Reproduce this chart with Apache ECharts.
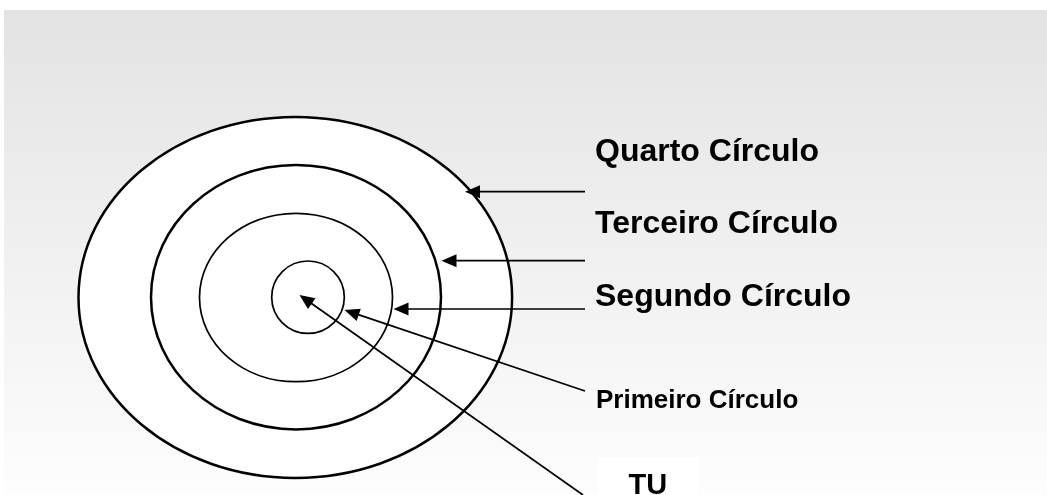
<!DOCTYPE html>
<html>
<head>
<meta charset="utf-8">
<script src="https://cdn.jsdelivr.net/npm/echarts@6/dist/echarts.min.js"></script>
<style>
  html, body { margin: 0; padding: 0; background: #ffffff; }
  #chart { width: 1047px; height: 495px; }
</style>
</head>
<body>
<div id="chart"></div>
<script>
// Concentric circles (innermost first), in diagram units
const circleNames = ['Primeiro Círculo', 'Segundo Círculo', 'Terceiro Círculo', 'Quarto Círculo'];
const circleCx = [308, 296, 296, 295.3];
const circleCy = [297.2, 297.5, 297.2, 297.4];
const circleRx = [36.3, 96.5, 145, 216.8];
const circleRy = [36.2, 84.2, 132.2, 180.5];

// Arrows pointing at each ring (and at the centre, TU)
const arrowNames = ['Quarto Círculo', 'Terceiro Círculo', 'Segundo Círculo', 'Primeiro Círculo', 'TU'];
const arrowFromX = [585, 585, 585, 585, 583];
const arrowFromY = [191.7, 260.7, 309, 391, 495];
const arrowToX = [465, 441.5, 393.5, 344.5, 299.5];
const arrowToY = [191.7, 260.7, 309, 310, 295];

// Text labels
const labelTexts = ['Quarto Círculo', 'Terceiro Círculo', 'Segundo Círculo', 'Primeiro Círculo', 'TU'];
const labelX = [595, 595, 595, 596, 598];
const labelY = [152, 224, 297.5, 400.5, 457];

const circleWidths = [1.7, 1.7, 2.5, 2.5];
const labelSizes = [32, 32, 32, 26, 29];

const chart = echarts.init(document.getElementById('chart'), null, { renderer: 'canvas' });

const circleData = circleCx.map((_, i) => [circleCx[i], circleCy[i], circleRx[i], circleRy[i], i]).reverse();
const arrowData = arrowFromX.map((_, i) => [arrowFromX[i], arrowFromY[i], arrowToX[i], arrowToY[i]]);
const labelData = labelTexts.map((t, i) => [labelX[i], labelY[i], i]);

const option = {
  backgroundColor: '#ffffff',
  animation: false,
  graphic: [{
    type: 'rect', left: 4, top: 10, z: -10,
    shape: { width: 1043, height: 485 },
    style: {
      fill: new echarts.graphic.LinearGradient(0, 0, 0, 1, [
        { offset: 0, color: '#e3e3e3' },
        { offset: 1, color: '#fdfdfd' }
      ])
    }
  }],
  grid: { left: 0, right: 0, top: 0, bottom: 0 },
  xAxis: { type: 'value', min: 0, max: 1047, show: false },
  yAxis: { type: 'value', min: 0, max: 495, inverse: true, show: false },
  series: [
    {
      type: 'custom',
      name: 'circles',
      data: circleData,
      z: 2,
      renderItem: function (params, api) {
        const c = api.coord([api.value(0), api.value(1)]);
        const s = api.size([api.value(2), api.value(3)]);
        const idx = api.value(4);
        return {
          type: 'ellipse',
          shape: { cx: c[0], cy: c[1], rx: s[0], ry: s[1] },
          style: { fill: '#ffffff', stroke: '#000000', lineWidth: circleWidths[idx] }
        };
      }
    },
    {
      type: 'custom',
      name: 'arrows',
      data: arrowData,
      z: 3,
      renderItem: function (params, api) {
        const a = api.coord([api.value(0), api.value(1)]);
        const b = api.coord([api.value(2), api.value(3)]);
        const dx = b[0] - a[0], dy = b[1] - a[1];
        const len = Math.sqrt(dx * dx + dy * dy);
        const ux = dx / len, uy = dy / len;
        const hl = 15, hw = 6.5;
        const bx = b[0] - ux * hl, by = b[1] - uy * hl;
        return {
          type: 'group',
          children: [
            {
              type: 'line',
              shape: { x1: a[0], y1: a[1], x2: bx + ux * 2, y2: by + uy * 2 },
              style: { stroke: '#000000', lineWidth: 1.7 }
            },
            {
              type: 'polygon',
              shape: { points: [[b[0], b[1]], [bx - uy * hw, by + ux * hw], [bx + uy * hw, by - ux * hw]] },
              style: { fill: '#000000' }
            }
          ]
        };
      }
    },
    {
      type: 'custom',
      name: 'labels',
      data: labelData,
      z: 4,
      renderItem: function (params, api) {
        const p = api.coord([api.value(0), api.value(1)]);
        const idx = api.value(2);
        const isTU = idx === 4;
        const style = {
          text: labelTexts[idx],
          x: p[0], y: p[1],
          fill: '#000000',
          font: 'bold ' + labelSizes[idx] + 'px "Liberation Sans", Arial, sans-serif',
          align: 'left',
          verticalAlign: isTU ? 'top' : 'middle'
        };
        if (isTU) {
          style.backgroundColor = '#ffffff';
          style.padding = [14.5, 32, 12, 30.5];
        }
        return { type: 'text', style: style };
      }
    }
  ]
};
chart.setOption(option);
</script>
</body>
</html>
